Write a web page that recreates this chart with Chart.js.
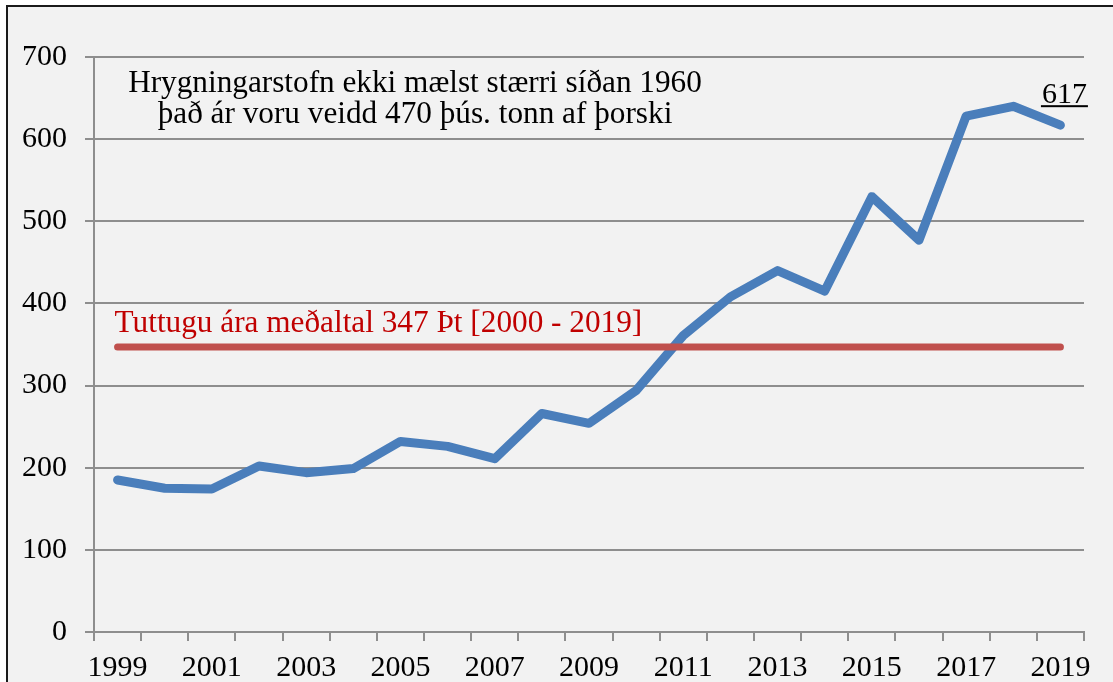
<!DOCTYPE html>
<html>
<head>
<meta charset="utf-8">
<script src="https://cdn.jsdelivr.net/npm/chart.js@4/dist/chart.umd.min.js"></script>
<style>
  html, body { margin: 0; padding: 0; background: #ffffff; }
  #wrap { position: relative; width: 1113px; height: 682px; }
  canvas { display: block; }
</style>
</head>
<body>
<div id="wrap"><canvas id="c" width="1113" height="682"></canvas></div>
<script>
// ---- data ----
const years = ['1999','2000','2001','2002','2003','2004','2005','2006','2007','2008','2009',
               '2010','2011','2012','2013','2014','2015','2016','2017','2018','2019'];
const spawningStock = [185, 175, 174, 202, 194, 199, 232, 226, 211, 266, 254,
                       294, 361, 408, 440, 415, 530, 477, 628, 640, 617];
const twentyYearAverage = [347, 347, 347, 347, 347, 347, 347, 347, 347, 347, 347,
                           347, 347, 347, 347, 347, 347, 347, 347, 347, 347];
const yTicks = [0, 100, 200, 300, 400, 500, 600, 700];
const titleLines = ['Hrygningarstofn ekki mælst stærri síðan 1960',
                    'það ár voru veidd 470 þús. tonn af þorski'];
const averageLabel = 'Tuttugu ára meðaltal 347 Þt [2000 - 2019]';
const lastValueLabel = '617';

const SERIF = '"Liberation Serif", "Times New Roman", serif';
const GRID = '#8e8e8e';

function fitFont(ctx, text, targetWidth) {
  ctx.font = '100px ' + SERIF;
  const w = ctx.measureText(text).width;
  return 100 * targetWidth / w;
}

const framePlugin = {
  id: 'frame',
  beforeDraw(chart) {
    const ctx = chart.ctx;
    ctx.save();
    ctx.fillStyle = '#ffffff';
    ctx.fillRect(0, 0, chart.width, chart.height);
    ctx.fillStyle = '#f2f2f2';
    ctx.fillRect(7, 6, chart.width - 7, chart.height - 6);
    ctx.strokeStyle = '#1a1a1a';
    ctx.lineWidth = 2;
    ctx.beginPath();
    ctx.moveTo(7, chart.height);
    ctx.lineTo(7, 6);
    ctx.lineTo(chart.width, 6);
    ctx.stroke();
    ctx.restore();
  }
};

const textPlugin = {
  id: 'texts',
  afterDatasetsDraw(chart) {
    const ctx = chart.ctx;
    const xs = chart.scales.x, ys = chart.scales.y;
    const area = chart.chartArea;
    ctx.save();
    // Title block
    const tSize = fitFont(ctx, titleLines[0], 574);
    ctx.font = tSize.toFixed(2) + 'px ' + SERIF;
    ctx.fillStyle = '#000000';
    ctx.textAlign = 'center';
    ctx.textBaseline = 'alphabetic';
    const cx = area.left + 321;
    ctx.fillText(titleLines[0], cx, area.top + 35);
    ctx.fillText(titleLines[1], cx, area.top + 66);
    // Average label
    const aSize = fitFont(ctx, averageLabel, 528);
    ctx.font = aSize.toFixed(2) + 'px ' + SERIF;
    ctx.fillStyle = '#c00000';
    ctx.textAlign = 'left';
    ctx.fillText(averageLabel, xs.getPixelForValue(0) - 3, ys.getPixelForValue(twentyYearAverage[0]) - 15);
    // Last value label (underlined)
    ctx.font = '30px ' + SERIF;
    ctx.fillStyle = '#000000';
    ctx.textAlign = 'center';
    const lx = xs.getPixelForValue(years.length - 1) + 4;
    const ly = ys.getPixelForValue(spawningStock[spawningStock.length - 1]) - 22;
    ctx.fillText(lastValueLabel, lx, ly);
    const lw = ctx.measureText(lastValueLabel).width;
    ctx.fillRect(lx - lw / 2 - 1, ly + 2, lw + 2, 2);
    ctx.restore();
  }
};

new Chart(document.getElementById('c'), {
  type: 'line',
  data: {
    labels: years,
    datasets: [
      {
        label: 'Meðaltal',
        data: twentyYearAverage,
        borderColor: '#c0504d',
        borderWidth: 7,
        borderCapStyle: 'round',
        pointRadius: 0,
        tension: 0,
        fill: false
      },
      {
        label: 'Hrygningarstofn',
        data: spawningStock,
        borderColor: '#4a7ebb',
        borderWidth: 9,
        borderCapStyle: 'round',
        borderJoinStyle: 'round',
        pointRadius: 0,
        tension: 0,
        fill: false
      }
    ]
  },
  options: {
    responsive: false,
    animation: false,
    devicePixelRatio: 1,
    layout: { padding: { left: 0, right: 29, top: 57, bottom: 0 } },
    plugins: { legend: { display: false }, tooltip: { enabled: false }, title: { display: false } },
    scales: {
      x: {
        type: 'category',
        offset: true,
        afterFit(scale) { scale.height = 50; },
        grid: {
          offset: true,
          drawOnChartArea: false,
          drawTicks: true,
          tickLength: 9,
          color: GRID,
          lineWidth: 2
        },
        border: { display: true, color: GRID, width: 2 },
        ticks: {
          autoSkip: false,
          maxRotation: 0,
          minRotation: 0,
          padding: 9,
          color: '#000000',
          font: { family: SERIF, size: 30 },
          callback(value, index) { return index % 2 === 0 ? years[index] : ''; }
        }
      },
      y: {
        min: yTicks[0],
        max: yTicks[yTicks.length - 1],
        afterFit(scale) { scale.width = 94; },
        afterBuildTicks(scale) { scale.ticks = yTicks.map(v => ({ value: v })); },
        grid: {
          color: GRID,
          lineWidth: 2,
          tickLength: 9,
          drawTicks: true
        },
        border: { display: true, color: GRID, width: 2 },
        ticks: {
          padding: 18,
          color: '#000000',
          font: { family: SERIF, size: 30 }
        }
      }
    }
  },
  plugins: [framePlugin, textPlugin]
});
</script>
</body>
</html>
